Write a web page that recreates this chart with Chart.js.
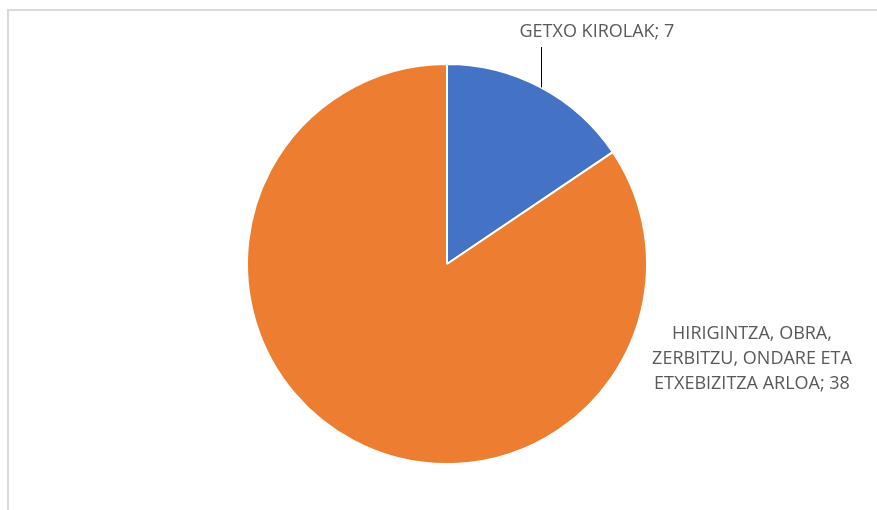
<!DOCTYPE html>
<html>
<head>
<meta charset="utf-8">
<script src="https://cdn.jsdelivr.net/npm/chart.js@4"></script>
<style>
    html, body { margin: 0; padding: 0; background: #fff; }
    #wrap { position: relative; width: 877px; height: 510px; overflow: hidden; }
    #frame {
        position: absolute; left: 7px; top: 9px; width: 900px; height: 520px;
        border-top: 2px solid #d9d9d9; border-left: 2px solid #d9d9d9;
    }
    canvas { position: absolute; left: 0; top: 0; }
</style>
</head>
<body>
<div id="wrap">
    <div id="frame"></div>
    <canvas id="pieChart" width="877" height="510"></canvas>
</div>
<script>
// Chart data
const categories = ['GETXO KIROLAK', 'HIRIGINTZA, OBRA, ZERBITZU, ONDARE ETA ETXEBIZITZA ARLOA'];
const values = [7, 38];
const sliceColors = ['#4472C4', '#ED7D31'];
// wrapped label of the big slice, as shown in the picture
const bigLabelLines = ['HIRIGINTZA, OBRA,', 'ZERBITZU, ONDARE ETA', 'ETXEBIZITZA ARLOA; ' + values[1]];

const labelFont = '18px "Open Sans", sans-serif';
const labelColor = '#595959';

// Draw data labels (with leader line for the small slice)
const pieLabels = {
    id: 'pieLabels',
    afterDraw(chart) {
        const ctx = chart.ctx;
        const arcs = chart.getDatasetMeta(0).data;
        ctx.save();
        ctx.font = labelFont;
        ctx.fillStyle = labelColor;
        ctx.textAlign = 'center';
        ctx.textBaseline = 'middle';

        // small slice: leader line from mid-angle edge straight up
        const a = arcs[0].getProps(['x', 'y', 'startAngle', 'endAngle', 'outerRadius'], true);
        const mid = (a.startAngle + a.endAngle) / 2;
        const px = a.x + Math.cos(mid) * a.outerRadius;
        const py = a.y + Math.sin(mid) * a.outerRadius;
        ctx.strokeStyle = '#000';
        ctx.lineWidth = 1;
        ctx.beginPath();
        ctx.moveTo(Math.round(px) + 0.5, py);
        ctx.lineTo(Math.round(px) + 0.5, 47);
        ctx.stroke();
        ctx.fillText(categories[0] + '; ' + values[0], px + 56, 32);

        // big slice: label placed to the right of the pie
        const b = arcs[1].getProps(['x', 'y'], true);
        bigLabelLines.forEach((line, i) => {
            ctx.fillText(line, b.x + 305, b.y + 70 + i * 25);
        });
        ctx.restore();
    }
};

new Chart(document.getElementById('pieChart'), {
    type: 'pie',
    data: {
        labels: categories,
        datasets: [{
            data: values,
            backgroundColor: sliceColors,
            borderColor: '#ffffff',
            borderWidth: 2
        }]
    },
    options: {
        responsive: false,
        animation: false,
        devicePixelRatio: 1,
        layout: { padding: { top: 63, bottom: 45, left: 235, right: 218 } },
        plugins: {
            legend: { display: false },
            tooltip: { enabled: false }
        }
    },
    plugins: [pieLabels]
});
</script>
</body>
</html>
